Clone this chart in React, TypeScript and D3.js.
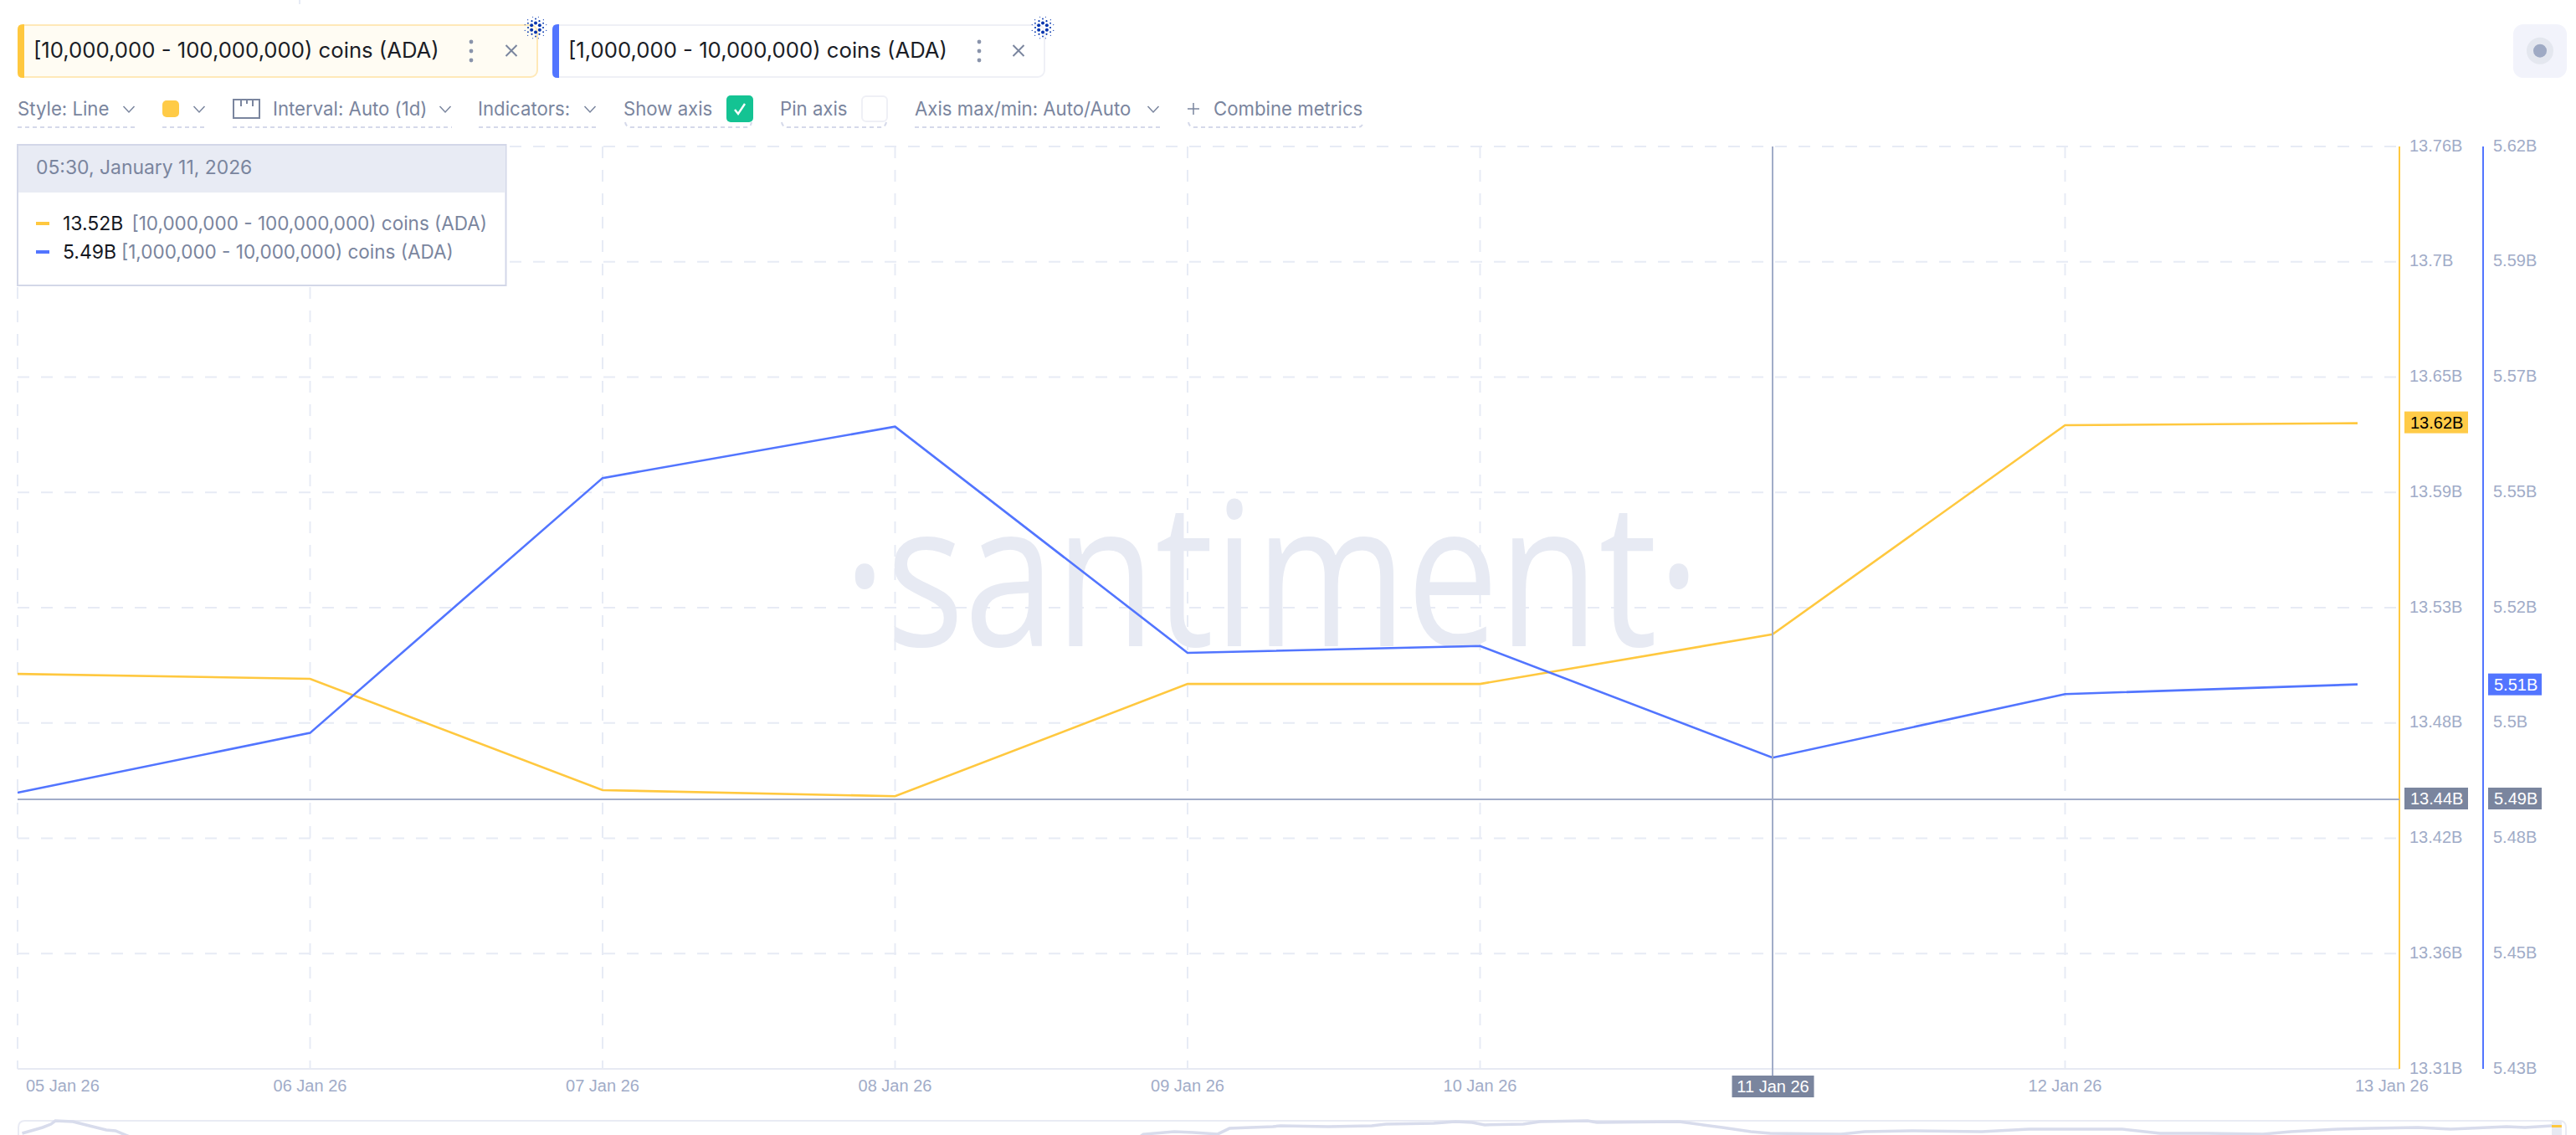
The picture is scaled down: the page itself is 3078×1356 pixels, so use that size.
import { useEffect, useRef } from 'react';
import * as d3 from 'd3';

const dates = ['2026-01-05', '2026-01-06', '2026-01-07', '2026-01-08', '2026-01-09', '2026-01-10', '2026-01-11', '2026-01-12', '2026-01-13'];
const yellowValues = [13.5027, 13.5003, 13.446, 13.443, 13.4978, 13.4978, 13.522, 13.624, 13.625];
const blueValues = [5.4869, 5.4992, 5.5517, 5.5623, 5.5157, 5.5171, 5.4941, 5.5072, 5.5092];
const yellowTicks = ['13.76B', '13.7B', '13.65B', '13.59B', '13.53B', '13.48B', '13.42B', '13.36B', '13.31B'];
const blueTicks = ['5.62B', '5.59B', '5.57B', '5.55B', '5.52B', '5.5B', '5.48B', '5.45B', '5.43B'];
const yellowName = '[10,000,000 - 100,000,000) coins (ADA)';
const blueName = '[1,000,000 - 10,000,000) coins (ADA)';
const hoverDate = '2026-01-11';

// overview strip under the chart, share of the full history (0-100) and level (0-100)
const navPosition = [0.18, 0.98, 1.31, 1.48, 2.17, 2.82, 3.48, 3.84, 4.24, 4.8, 43.8, 44.16, 45.37, 46.13, 47.08, 47.54, 49.24, 49.54, 51.41, 53.12, 53.68, 55.55, 56.4, 57.06, 57.55, 59.06, 59.72, 61.59, 61.95, 65.17, 66.12, 66.87, 67.99, 68.75, 71.54, 72.46, 74.29, 77.05, 78.89, 82.57, 84.04, 85.88, 88.08, 89.17, 91, 92.32, 94.16, 95.44, 97.64, 98.36, 99.41];
const navLevel = [11, 50, 72, 94, 89, 61, 33, 28, 0, -40, -40, 5, 22, 17, 6, 44, 56, 61, 56, 61, 72, 78, 89, 83, 67, 72, 89, 94, 83, 89, 67, 50, 22, 11, 6, 22, 28, 22, 39, 39, 11, 11, 6, 22, 39, 44, 50, 39, 56, 50, 61];
const navSelected = [99.41, 99.8];
const navSelectedLevel = [58, 59];

const YELLOW = '#ffc83f';
const BLUE = '#5275ff';
const GRID = '#e7ebf5';
const TICK = '#a1acc8';
const MUTED = '#7a859e';
const DARK = '#7a859e';
const SANS = 'Inter, sans-serif';
const AXIS_FONT = '"Liberation Sans", Arial, sans-serif';

export default function App() {
  const svgRef = useRef<SVGSVGElement>(null);

  useEffect(() => {
    const svg = d3.select(svgRef.current);
    svg.selectAll('*').remove();

    const left = 21;
    const top = 175;
    const bottom = 1277;
    const yellowAxisX = 2867;
    const blueAxisX = 2967;

    const parse = d3.utcParse('%Y-%m-%d');
    const days = dates.map((d) => parse(d) as Date);
    const x = d3.scaleUtc().domain([days[0], days[days.length - 1]]).range([left, 2817]);
    const yYellow = d3.scaleLinear().domain([13.31, 13.76]).range([bottom, top]);
    const yBlue = d3.scaleLinear().domain([5.43, 5.62]).range([bottom, top]);
    const yellowTickScale = d3.scalePoint<string>().domain(yellowTicks).range([top, bottom]);
    const blueTickScale = d3.scalePoint<string>().domain(blueTicks).range([top, bottom]);
    const navX = d3.scaleLinear().domain([0, 100]).range([left, 3067]);
    const navY = d3.scaleLinear().domain([0, 100]).range([1356, 1338]);

    // grid
    const grid = svg.append('g').attr('stroke', GRID).attr('stroke-width', 2).attr('stroke-dasharray', '14 14');
    grid.selectAll('.h').data(yellowTicks.slice(0, -1)).join('line')
      .attr('x1', left).attr('x2', yellowAxisX)
      .attr('y1', (d) => yellowTickScale(d)!).attr('y2', (d) => yellowTickScale(d)!);
    grid.selectAll('.v').data(days.slice(0, -1)).join('line')
      .attr('x1', (d) => x(d)).attr('x2', (d) => x(d))
      .attr('y1', top).attr('y2', bottom);

    // cut off mark at the very top of the page
    svg.append('line').attr('x1', 358).attr('x2', 358).attr('y1', 0).attr('y2', 5).attr('stroke', GRID).attr('stroke-width', 2);

    // watermark, squeezed sideways like the logo
    svg.append('text')
      .attr('transform', 'translate(1519.5,772) scale(0.815,1)')
      .attr('text-anchor', 'middle')
      .attr('font-family', '"Open Sans", sans-serif')
      .attr('font-size', 240)
      .attr('font-weight', 500)
      .attr('fill', '#e7eaf3')
      .text('·santiment·');

    // bottom edge and the two value axes
    svg.append('line').attr('x1', left).attr('x2', yellowAxisX).attr('y1', bottom).attr('y2', bottom).attr('stroke', '#e7eaf3').attr('stroke-width', 2);
    svg.append('line').attr('x1', yellowAxisX).attr('x2', yellowAxisX).attr('y1', top).attr('y2', bottom).attr('stroke', YELLOW).attr('stroke-width', 2);
    svg.append('line').attr('x1', blueAxisX).attr('x2', blueAxisX).attr('y1', top).attr('y2', bottom).attr('stroke', BLUE).attr('stroke-width', 2);

    const drawAxis = (scale: d3.ScalePoint<string>, at: number) => {
      const g = svg.append('g').attr('transform', `translate(${at},0)`)
        .call(d3.axisRight(scale).tickSize(0).tickPadding(12));
      g.select('.domain').remove();
      g.selectAll('text')
        .attr('font-family', AXIS_FONT).attr('font-size', 20).attr('fill', TICK).attr('dy', '0.25em');
    };
    drawAxis(yellowTickScale, yellowAxisX);
    drawAxis(blueTickScale, blueAxisX);

    // date labels, the first and last are pushed sideways like in the app
    svg.append('g').selectAll('text').data(days).join('text')
      .attr('x', (d, i) => (i === 0 ? 31 : i === days.length - 1 ? 2814 : x(d)))
      .attr('y', 1304)
      .attr('text-anchor', (d, i) => (i === 0 || i === days.length - 1 ? 'start' : 'middle'))
      .attr('font-family', AXIS_FONT).attr('font-size', 20).attr('fill', TICK)
      .text((d) => d3.utcFormat('%d %b %y')(d));

    // series
    const lineYellow = d3.line<number>().x((_, i) => x(days[i])).y((d) => yYellow(d));
    const lineBlue = d3.line<number>().x((_, i) => x(days[i])).y((d) => yBlue(d));
    svg.append('path').attr('d', lineYellow(yellowValues)).attr('fill', 'none').attr('stroke', YELLOW).attr('stroke-width', 2.6);
    svg.append('path').attr('d', lineBlue(blueValues)).attr('fill', 'none').attr('stroke', BLUE).attr('stroke-width', 2.6);

    // hover crosshair
    const hoverIndex = dates.indexOf(hoverDate);
    const hoverX = x(days[hoverIndex]);
    const hoverY = 955;
    svg.append('line').attr('x1', hoverX).attr('x2', hoverX).attr('y1', top).attr('y2', 1286).attr('stroke', '#a1acc8').attr('stroke-width', 2);
    svg.append('line').attr('x1', left).attr('x2', yellowAxisX).attr('y1', hoverY).attr('y2', hoverY).attr('stroke', '#a1acc8').attr('stroke-width', 2);

    const valueTag = (tagX: number, w: number, cy: number, fill: string, color: string, label: string) => {
      svg.append('rect').attr('x', tagX).attr('y', cy - 13).attr('width', w).attr('height', 26).attr('fill', fill);
      svg.append('text').attr('x', tagX + 7).attr('y', cy + 7).attr('font-family', AXIS_FONT).attr('font-size', 20).attr('fill', color).text(label);
    };
    valueTag(2873, 76, yYellow(yellowValues[8]) - 1, '#ffcb47', '#000', '13.62B');
    valueTag(2973, 64, yBlue(blueValues[8]), BLUE, '#fff', '5.51B');
    valueTag(2873, 76, hoverY - 1, DARK, '#fff', '13.44B');
    valueTag(2973, 64, hoverY - 1, DARK, '#fff', '5.49B');

    svg.append('rect').attr('x', hoverX - 48.5).attr('y', 1285).attr('width', 98).attr('height', 26).attr('fill', DARK);
    svg.append('text').attr('x', hoverX + 0.5).attr('y', 1305).attr('text-anchor', 'middle')
      .attr('font-family', AXIS_FONT).attr('font-size', 20).attr('fill', '#fff')
      .text(d3.utcFormat('%d %b %y')(days[hoverIndex]));

    // tooltip
    const tip = svg.append('g');
    tip.append('rect').attr('x', 21).attr('y', 173).attr('width', 583.5).attr('height', 168)
      .attr('fill', '#fff').attr('fill-opacity', 0.97).attr('stroke', '#d3d7e8').attr('stroke-width', 2);
    tip.append('rect').attr('x', 22).attr('y', 174).attr('width', 581.5).attr('height', 56).attr('fill', '#e8ebf4');
    tip.append('text').attr('x', 43).attr('y', 208).attr('font-family', SANS).attr('font-size', 22.9).attr('fill', MUTED)
      .text(`05:30, January 11, 2026`);
    const tipRow = (y: number, color: string, value: string, name: string, nameX: number) => {
      tip.append('rect').attr('x', 43).attr('y', y - 2).attr('width', 16).attr('height', 4).attr('fill', color);
      tip.append('text').attr('x', 75).attr('y', y + 8).attr('font-family', SANS).attr('font-size', 23).attr('fill', '#14171f').text(value);
      tip.append('text').attr('x', nameX).attr('y', y + 8).attr('font-family', SANS).attr('font-size', 22.5).attr('fill', MUTED).text(name);
    };
    tipRow(267, YELLOW, d3.format('.2f')(yellowValues[6]) + 'B', yellowName, 157.5);
    tipRow(301, BLUE, d3.format('.2f')(blueValues[6]) + 'B', blueName, 145);

    // metric tabs
    const cardano = (cx: number, cy: number) => {
      const g = svg.append('g').attr('fill', '#0033ad');
      const ring = (n: number, radius: number, size: number, phase: number) => {
        d3.range(n).forEach((i) => {
          const a = phase + (i / n) * Math.PI * 2;
          g.append('circle').attr('cx', cx + Math.cos(a) * radius).attr('cy', cy + Math.sin(a) * radius).attr('r', size);
        });
      };
      ring(6, 5.6, 2, Math.PI / 2);
      ring(6, 9, 1.1, 0);
      ring(6, 10.5, 0.9, Math.PI / 2);
      ring(12, 13.2, 0.6, Math.PI / 12);
    };
    const tab = (x0: number, x1: number, color: string, fill: string, border: string, label: string, textX: number, dotsX: number, closeX: number) => {
      svg.append('rect').attr('x', x0 + 1).attr('y', 30).attr('width', x1 - x0 - 2).attr('height', 62).attr('rx', 8)
        .attr('fill', fill).attr('stroke', border).attr('stroke-width', 2);
      svg.append('path').attr('d', `M${x0 + 8},29 H${x0 + 6} Q${x0},29 ${x0},35 V87 Q${x0},93 ${x0 + 6},93 H${x0 + 8} Z`).attr('fill', color);
      svg.append('text').attr('x', textX).attr('y', 69).attr('font-family', SANS).attr('font-size', 25.7).attr('fill', '#1a1d26').text(label);
      [50, 61, 72].forEach((cy) => svg.append('circle').attr('cx', dotsX).attr('cy', cy).attr('r', 2.4).attr('fill', '#8a94ab'));
      svg.append('path').attr('d', `M${closeX - 6.5},${54} L${closeX + 6.5},${67} M${closeX + 6.5},${54} L${closeX - 6.5},${67}`)
        .attr('stroke', MUTED).attr('stroke-width', 2).attr('fill', 'none');
      cardano(x1 - 3, 33);
    };
    tab(21, 643, '#ffc83f', '#fffcf3', '#ffe9b8', yellowName, 40, 563, 611);
    tab(660, 1249, BLUE, '#fff', '#eff0f6', blueName, 679, 1170, 1217);

    // toolbar
    const bar = svg.append('g');
    const label = (tx: number, t: string) => bar.append('text').attr('x', tx).attr('y', 138).attr('font-family', SANS).attr('font-size', 22.2).attr('fill', MUTED).text(t);
    const chevron = (cx: number) => bar.append('path').attr('d', `M${cx - 6.5},127 L${cx},134 L${cx + 6.5},127`).attr('fill', 'none').attr('stroke', MUTED).attr('stroke-width', 1.5);
    const dashed = (x0: number, x1: number) => bar.append('line').attr('x1', x0).attr('x2', x1).attr('y1', 152).attr('y2', 152).attr('stroke', '#d5d9ea').attr('stroke-width', 2).attr('stroke-dasharray', '5 4');
    const curved = (x0: number, x1: number) => bar.append('path').attr('d', `M${x0},146 Q${x0 + 1},152 ${x0 + 7},152 H${x1 - 7} Q${x1 - 1},152 ${x1},146`).attr('fill', 'none').attr('stroke', '#d5d9ea').attr('stroke-width', 2).attr('stroke-dasharray', '5 4');

    label(21, 'Style: Line'); chevron(154); dashed(21, 162);
    bar.append('rect').attr('x', 194).attr('y', 120).attr('width', 20).attr('height', 20).attr('rx', 5).attr('fill', '#ffcb47');
    chevron(238); dashed(194, 246);
    bar.append('path').attr('d', 'M279,119 H310 V141 H279 Z M288,119 V127 M295,119 V124 M302,119 V127').attr('fill', 'none').attr('stroke', MUTED).attr('stroke-width', 2);
    label(326, 'Interval: Auto (1d)'); chevron(532); dashed(278, 540);
    label(571, 'Indicators:'); chevron(705); dashed(572, 713);
    label(745, 'Show axis'); curved(747, 898);
    bar.append('rect').attr('x', 868).attr('y', 114).attr('width', 32).attr('height', 32).attr('rx', 5).attr('fill', '#14c393');
    bar.append('path').attr('d', 'M878,131 L882,136 L890,124').attr('fill', 'none').attr('stroke', '#fff').attr('stroke-width', 2.4);
    label(932, 'Pin axis'); curved(934, 1059);
    bar.append('rect').attr('x', 1030).attr('y', 115).attr('width', 30).attr('height', 30).attr('rx', 5).attr('fill', '#fff').attr('stroke', '#eff0f6').attr('stroke-width', 2);
    label(1093, 'Axis max/min: Auto/Auto'); chevron(1378); dashed(1093, 1386);
    bar.append('path').attr('d', 'M1419,130 H1433 M1426,123 V137').attr('stroke', MUTED).attr('stroke-width', 1.5);
    label(1450, 'Combine metrics'); curved(1420, 1629);

    // top right button
    svg.append('rect').attr('x', 3003).attr('y', 29).attr('width', 64).attr('height', 64).attr('rx', 12).attr('fill', '#f2f3fb');
    svg.append('circle').attr('cx', 3035).attr('cy', 60.7).attr('r', 16).attr('fill', '#e4e7ef');
    svg.append('circle').attr('cx', 3035).attr('cy', 60.7).attr('r', 8).attr('fill', '#9faac4');

    // overview strip
    svg.append('path').attr('d', 'M22,1360 V1347 Q22,1339 30,1339 H3058 Q3066,1339 3066,1347 V1360')
      .attr('fill', 'none').attr('stroke', '#e9ebf4').attr('stroke-width', 2);
    svg.append('rect').attr('x', navX(navSelected[0])).attr('y', 1340).attr('width', navX(navSelected[1]) - navX(navSelected[0])).attr('height', 16).attr('fill', '#e7eaf3');
    const navLine = d3.line<number>().x((_, i) => navX(navPosition[i])).y((d) => navY(d));
    svg.append('path').attr('d', navLine(navLevel)).attr('fill', 'none').attr('stroke', '#d8dcec').attr('stroke-width', 3.5);
    const navSelectedLine = d3.line<number>().x((_, i) => navX(navSelected[i])).y((d) => navY(d));
    svg.append('path').attr('d', navSelectedLine(navSelectedLevel)).attr('fill', 'none').attr('stroke', YELLOW).attr('stroke-width', 3);
  }, []);

  return (
    <svg
      ref={svgRef}
      width={3078}
      height={1356}
      viewBox="0 0 3078 1356"
      style={{ position: 'absolute', left: 0, top: 0, display: 'block', background: '#fff' }}
    />
  );
}
